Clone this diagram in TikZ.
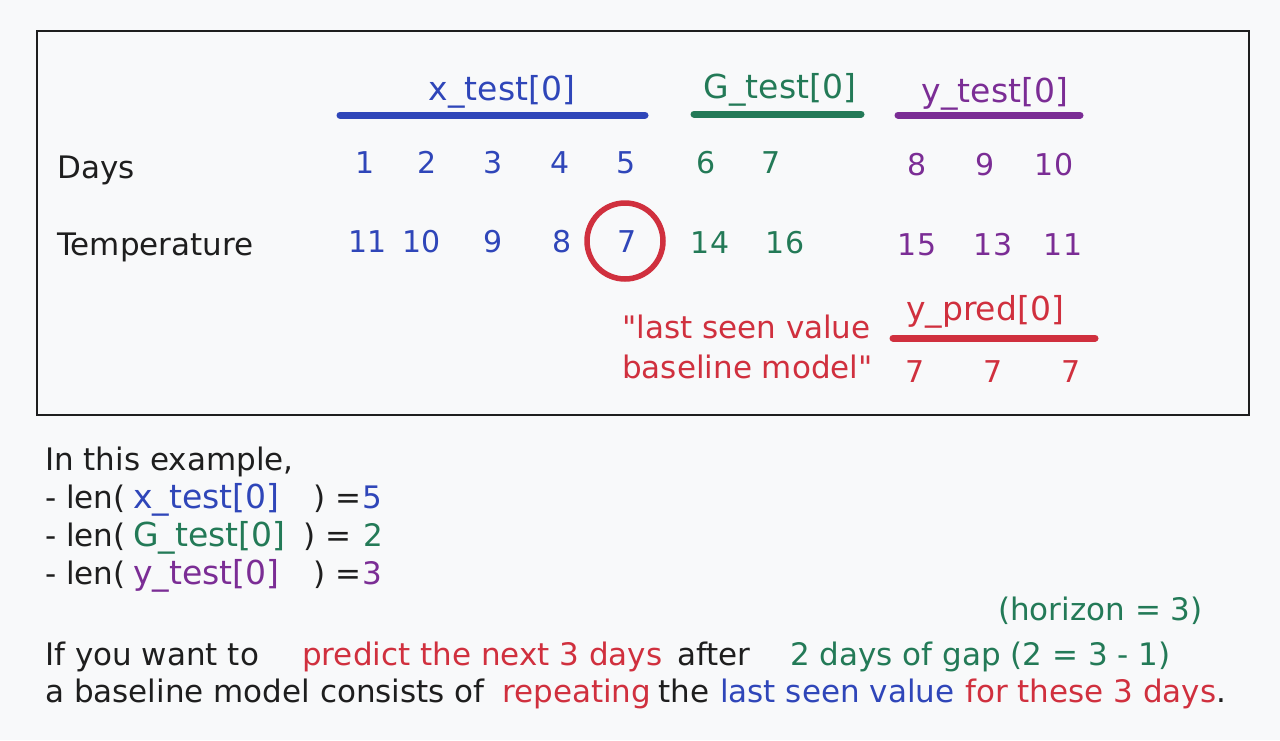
\documentclass[tikz,border=0pt]{standalone}
\usepackage{fontspec}
\newfontfamily\hand{DejaVu Sans}
\usepackage{tikz}
\definecolor{bg}{HTML}{F8F9FA}
\definecolor{ink}{HTML}{1E1E1E}
\definecolor{xb}{HTML}{2F46B9}
\definecolor{gg}{HTML}{237A57}
\definecolor{yp}{HTML}{7B2D95}
\definecolor{rd}{HTML}{D0303E}

\begin{document}
\begin{tikzpicture}[x=1pt,y=-1pt,
  txt/.style={inner sep=0pt,anchor=base west,font=\hand\fontsize{31}{35}\selectfont,text=ink},
  num/.style={inner sep=0pt,anchor=base,font=\hand\fontsize{30}{34}\selectfont},
  head/.style={num,font=\hand\fontsize{33}{37}\selectfont},
  bar/.style={line width=7pt,line cap=round},
  ring/.style={circle,draw=rd,line width=5.5pt,minimum size=76pt,inner sep=0pt}]
\useasboundingbox[fill=bg] (0,0) rectangle (1280,740);
\draw[ink,line width=2pt] (37,31) rectangle (1249,415);
% headers
\node[head,text=xb](xh) at (502,100){x\_test[0]};
\node[head,text=gg](gh) at (780,98){G\_test[0]};
\node[head,text=yp](yh) at (995,102){y\_test[0]};
\draw[bar,xb] (340,115) -- (645,115);
\draw[bar,gg] (694,114) -- (861,114);
\draw[bar,yp] (898,115) -- (1080,115);
% rows
\node[txt](days) at (57,178){Days};
\node[txt](temp) at (57,255){Temperature};
\foreach \x/\v [count=\i] in {365/1,427/2,493/3,560/4,626/5}
  \node[num,text=xb](d\i) at (\x,173){\v};
\foreach \x/\v [count=\i from 6] in {706/6,771/7}
  \node[num,text=gg](d\i) at (\x,173){\v};
\foreach \x/\v [count=\i from 8] in {917/8,985/9,1054/10}
  \node[num,text=yp](d\i) at (\x,175){\v};
\foreach \x/\v [count=\i] in {368/11,422/10,493/9,562/8,627/7}
  \node[num,text=xb](t\i) at (\x,252){\v};
\foreach \x/\v [count=\i from 6] in {710/14,785/16}
  \node[num,text=gg](t\i) at (\x,253){\v};
\foreach \x/\v [count=\i from 8] in {917/15,993/13,1063/11}
  \node[num,text=yp](t\i) at (\x,255){\v};
\node[ring](last) at (625,241){};
% prediction
\node[txt,text=rd](note1) at (622,338){"last seen value};
\node[txt,text=rd](note2) at (622,378){baseline model"};
\node[head,text=rd](ph) at (985,320){y\_pred[0]};
\draw[bar,rd] (893,338) -- (1095,338);
\foreach \x [count=\i] in {915,993,1071}
  \node[num,text=rd](p\i) at (\x,382){7};
% explanation
\node[txt](ex) at (45,470){In this example,};
\node[txt](l1) at (45,508){- len(};
\node[txt,font=\hand\fontsize{33}{37}\selectfont,text=xb](l1a) at (133,508){x\_test[0]};
\node[txt](l1b) at (313,508){) =};
\node[txt,text=xb](l1c) at (362,508){5};
\node[txt](l2) at (45,546){- len(};
\node[txt,font=\hand\fontsize{33}{37}\selectfont,text=gg](l2a) at (133,546){G\_test[0]};
\node[txt](l2b) at (303,546){) =};
\node[txt,text=gg](l2c) at (363,546){2};
\node[txt](l3) at (45,584){- len(};
\node[txt,font=\hand\fontsize{33}{37}\selectfont,text=yp](l3a) at (133,584){y\_test[0]};
\node[txt](l3b) at (313,584){) =};
\node[txt,text=yp](l3c) at (362,584){3};
\node[txt,text=gg](hz) at (998,620){(horizon = 3)};
\node[txt](s1) at (45,665){If you want to};
\node[txt,text=rd](s2) at (302,665){predict the next 3 days};
\node[txt](s3) at (677,665){after};
\node[txt,text=gg](s4) at (790,665){2 days of gap (2 = 3 - 1)};
\node[txt](r1) at (45,702){a baseline model consists of};
\node[txt,text=rd](r2) at (502,702){repeating};
\node[txt](r3) at (658,702){the};
\node[txt,text=xb](r4) at (720,702){last seen value};
\node[txt,text=rd](r5) at (965,702){for these 3 days\textcolor{ink}{.}};
\end{tikzpicture}
\end{document}
